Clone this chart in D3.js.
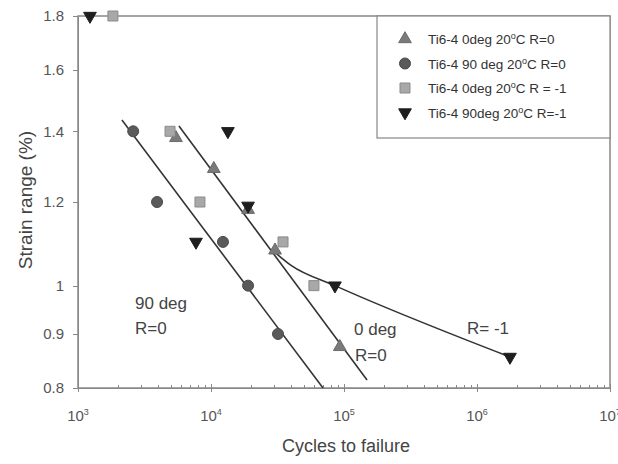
<!DOCTYPE html>
<html>
<head>
<meta charset="utf-8">
<script src="https://cdn.jsdelivr.net/npm/d3@7"></script>
<style>
  body { margin: 0; background: #fff; }
  svg { font-family: Arial, "Liberation Sans", sans-serif; }
  .axis path, .axis line { stroke: #888; fill: none; shape-rendering: crispEdges; }
  .axis text { fill: #555; font-size: 15px; }
  .fit { fill: none; stroke: #333; stroke-width: 1.6; }
</style>
</head>
<body>
<div id="chart"></div>
<script>
// data (cycles, strain range %)
var tri0deg = [[5450, 1.38], [10500, 1.29], [19000, 1.18], [30300, 1.08], [93000, 0.875]];
var circ90deg = [[2600, 1.40], [3930, 1.2], [12300, 1.1], [19000, 1.0], [31900, 0.9]];
var sq0degRm1 = [[1830, 1.8], [4920, 1.4], [8260, 1.2], [34800, 1.1], [59400, 1.0]];
var tri90degRm1 = [[1230, 1.8], [13400, 1.4], [7710, 1.1], [19000, 1.19], [85500, 1.0], [1770000, 0.856]];

var fit90 = [[2140, 1.435], [69500, 0.8]];
var fit0 = [[5740, 1.416], [149000, 0.814]];
var fitRm1 = [[28800, 1.081], [40000, 1.045], [85500, 1.0], [1770000, 0.856]];

var xTicks = [3, 4, 5, 6, 7];
var yTicks = [0.8, 0.9, 1, 1.2, 1.4, 1.6, 1.8];

var legendNames = ["Ti6-4 0deg 20", "Ti6-4 90 deg 20", "Ti6-4 0deg 20", "Ti6-4 90deg 20"];
var legendTails = ["C R=0", "C R=0", "C R = -1", "C R=-1"];

var width = 618, height = 464;
var margin = {top: 16, right: 8, bottom: 76, left: 78};

var svg = d3.select("#chart").append("svg")
  .attr("width", width).attr("height", height);

var x = d3.scaleLog().domain([1e3, 1e7]).range([margin.left, width - margin.right]);
var y = d3.scaleLog().domain([0.8, 1.8]).range([height - margin.bottom, margin.top]);

// frame
svg.append("rect")
  .attr("x", x(1e3)).attr("y", y(1.8))
  .attr("width", x(1e7) - x(1e3)).attr("height", y(0.8) - y(1.8))
  .attr("fill", "none").attr("stroke", "#888").attr("stroke-width", 1.5);

// y axis
svg.append("g").attr("class", "axis")
  .attr("transform", "translate(" + x(1e3) + ",0)")
  .call(d3.axisLeft(y).tickValues(yTicks).tickSize(5).tickSizeOuter(0)
    .tickFormat(function(d) { return d3.format("")(+d.toFixed(1)); }))
  .call(function(g) { g.selectAll("text").attr("dx", "-6"); });

// x axis with minor ticks
var minor = [];
xTicks.slice(0, -1).forEach(function(e) {
  for (var k = 2; k <= 9; k++) minor.push(k * Math.pow(10, e));
});
var xg = svg.append("g").attr("class", "axis")
  .attr("transform", "translate(0," + y(0.8) + ")");
xg.call(d3.axisBottom(x).tickValues(minor).tickSize(-3).tickSizeOuter(0).tickFormat(""));
xg.selectAll(".major").data(xTicks).enter().append("line")
  .attr("x1", function(d) { return x(Math.pow(10, d)); })
  .attr("x2", function(d) { return x(Math.pow(10, d)); })
  .attr("y1", -4).attr("y2", 4);
var xl = xg.selectAll(".lab").data(xTicks).enter().append("text")
  .attr("x", function(d) { return x(Math.pow(10, d)); })
  .attr("y", 33).attr("text-anchor", "middle");
xl.append("tspan").text("10");
xl.append("tspan").attr("dy", -6).attr("font-size", 9).text(function(d) { return d; });

// axis titles
svg.append("text").attr("x", 346).attr("y", 452).attr("text-anchor", "middle")
  .attr("font-size", 18).attr("fill", "#444").text("Cycles to failure");
svg.append("text").attr("transform", "translate(32," + 200 + ") rotate(-90)")
  .attr("text-anchor", "middle").attr("font-size", 19).attr("fill", "#444")
  .text("Strain range (%)");

// fitted lines
var line = d3.line().x(function(d) { return x(d[0]); }).y(function(d) { return y(d[1]); });
svg.append("path").attr("class", "fit").attr("d", line(fit90));
svg.append("path").attr("class", "fit").attr("d", line(fit0));
svg.append("path").attr("class", "fit").attr("d", line.curve(d3.curveMonotoneX)(fitRm1));

// markers
var series = [
  {data: tri0deg, sym: d3.symbolTriangle, size: 70, fill: "#7a7a7a", stroke: "#6a6a6a", rot: 0},
  {data: circ90deg, sym: d3.symbolCircle, size: 95, fill: "#5a5a5a", stroke: "#4a4a4a", rot: 0},
  {data: sq0degRm1, sym: d3.symbolSquare, size: 100, fill: "#a8a8a8", stroke: "#8a8a8a", rot: 0},
  {data: tri90degRm1, sym: d3.symbolTriangle, size: 70, fill: "#1e1e1e", stroke: "#1e1e1e", rot: 180}
];
series.forEach(function(s) {
  svg.append("g").selectAll("path").data(s.data).enter().append("path")
    .attr("d", d3.symbol().type(s.sym).size(s.size))
    .attr("transform", function(d) {
      return "translate(" + x(d[0]) + "," + y(d[1]) + ") rotate(" + s.rot + ")";
    })
    .attr("fill", s.fill).attr("stroke", s.stroke).attr("stroke-width", 1);
});

// annotations
var notes = [["90 deg", 135, 309], ["R=0", 135, 334], ["0 deg", 354, 335], ["R=0", 355, 361], ["R= -1", 467, 334]];
svg.selectAll(".note").data(notes).enter().append("text")
  .attr("x", function(d) { return d[1]; }).attr("y", function(d) { return d[2]; })
  .attr("font-size", 17).attr("fill", "#444").text(function(d) { return d[0]; });

// legend
var lg = svg.append("g");
lg.append("rect").attr("x", 377).attr("y", 16).attr("width", 233).attr("height", 122)
  .attr("fill", "#fff").attr("stroke", "#888").attr("stroke-width", 1.2);
var rows = lg.selectAll(".row").data(series).enter().append("g")
  .attr("transform", function(d, i) { return "translate(405," + (39 + i * 24.5) + ")"; });
rows.append("path")
  .attr("d", function(d) { return d3.symbol().type(d.sym).size(d.size)(); })
  .attr("transform", function(d) { return "rotate(" + d.rot + ")"; })
  .attr("fill", function(d) { return d.fill; }).attr("stroke", function(d) { return d.stroke; });
var lt = rows.append("text").attr("x", 23).attr("y", 5).attr("font-size", 13.5).attr("fill", "#333");
lt.append("tspan").text(function(d, i) { return legendNames[i]; });
lt.append("tspan").attr("dy", -5).attr("font-size", 9).text("o");
lt.append("tspan").attr("dy", 5).text(function(d, i) { return legendTails[i]; });
</script>
</body>
</html>
